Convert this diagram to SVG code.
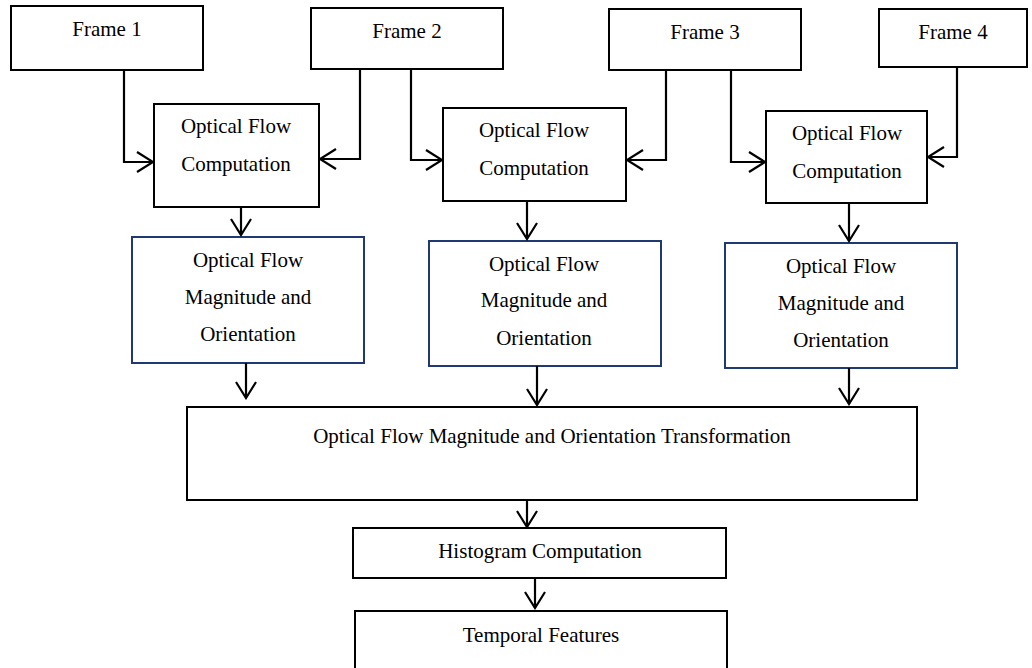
<svg xmlns="http://www.w3.org/2000/svg" width="1032" height="668" viewBox="0 0 1032 668">
<style>
.box{fill:#fff;stroke:#000;stroke-width:2}
.blue{fill:#fff;stroke:#1f3a73;stroke-width:2}
text{font-family:"Liberation Serif","Times New Roman",serif;font-size:21px;fill:#000;text-anchor:middle}
.c{fill:none;stroke:#000;stroke-width:2.2;marker-end:url(#ah)}
</style>
<defs>
<marker id="ah" markerUnits="userSpaceOnUse" viewBox="-19 -12 21 24" markerWidth="21" markerHeight="24" refX="0" refY="0" orient="auto">
<path d="M-16,-10 L0,0 L-16,10" fill="none" stroke="#000" stroke-width="2.2"/>
</marker>
</defs>
<rect width="1032" height="668" fill="#fff"/>
<g id="frame1"><rect class="box" x="11" y="6" width="192" height="64"/><text x="107" y="36">Frame 1</text></g>
<g id="frame2"><rect class="box" x="311" y="8" width="192" height="61"/><text x="407" y="38">Frame 2</text></g>
<g id="frame3"><rect class="box" x="609" y="9" width="192" height="61"/><text x="705" y="39">Frame 3</text></g>
<g id="frame4"><rect class="box" x="879" y="9" width="148" height="58"/><text x="953" y="39">Frame 4</text></g>
<g id="ofc1"><rect class="box" x="154" y="104" width="165" height="103"/><text x="236" y="133">Optical Flow</text><text x="236" y="171">Computation</text></g>
<g id="ofc2"><rect class="box" x="443" y="108" width="183" height="93"/><text x="534" y="137">Optical Flow</text><text x="534" y="175">Computation</text></g>
<g id="ofc3"><rect class="box" x="766" y="111" width="161" height="92"/><text x="847" y="140">Optical Flow</text><text x="847" y="178">Computation</text></g>
<g id="ofm1"><rect class="blue" x="132" y="237" width="232" height="126"/><text x="248" y="267">Optical Flow</text><text x="248" y="304">Magnitude and</text><text x="248" y="341">Orientation</text></g>
<g id="ofm2"><rect class="blue" x="429" y="241" width="232" height="125"/><text x="544" y="271">Optical Flow</text><text x="544" y="307">Magnitude and</text><text x="544" y="345">Orientation</text></g>
<g id="ofm3"><rect class="blue" x="725" y="243" width="232" height="125"/><text x="841" y="273">Optical Flow</text><text x="841" y="310">Magnitude and</text><text x="841" y="347">Orientation</text></g>
<g id="transform"><rect class="box" x="187" y="407" width="730" height="93"/><text x="552" y="443">Optical Flow Magnitude and Orientation Transformation</text></g>
<g id="histogram"><rect class="box" x="353" y="528" width="373" height="50"/><text x="540" y="558">Histogram Computation</text></g>
<g id="temporal"><rect class="box" x="355" y="611" width="372" height="80"/><text x="541" y="642">Temporal Features</text></g>
<g id="connectors">
<path class="c" d="M93,70 H124 V162 H153"/>
<path class="c" d="M345,69 H360 V159 H320"/>
<path class="c" d="M380,69 H411 V160 H442"/>
<path class="c" d="M653,70 H666 V160 H627"/>
<path class="c" d="M702,70 H731 V162 H765"/>
<path class="c" d="M948,67 H957 V157 H928"/>
<path class="c" d="M241,207 V235"/>
<path class="c" d="M527,201 V239"/>
<path class="c" d="M849,203 V241"/>
<path class="c" d="M246,363 V398"/>
<path class="c" d="M537,366 V405"/>
<path class="c" d="M849,368 V404"/>
<path class="c" d="M527,500 V527"/>
<path class="c" d="M535,578 V608"/>
</g>
</svg>
